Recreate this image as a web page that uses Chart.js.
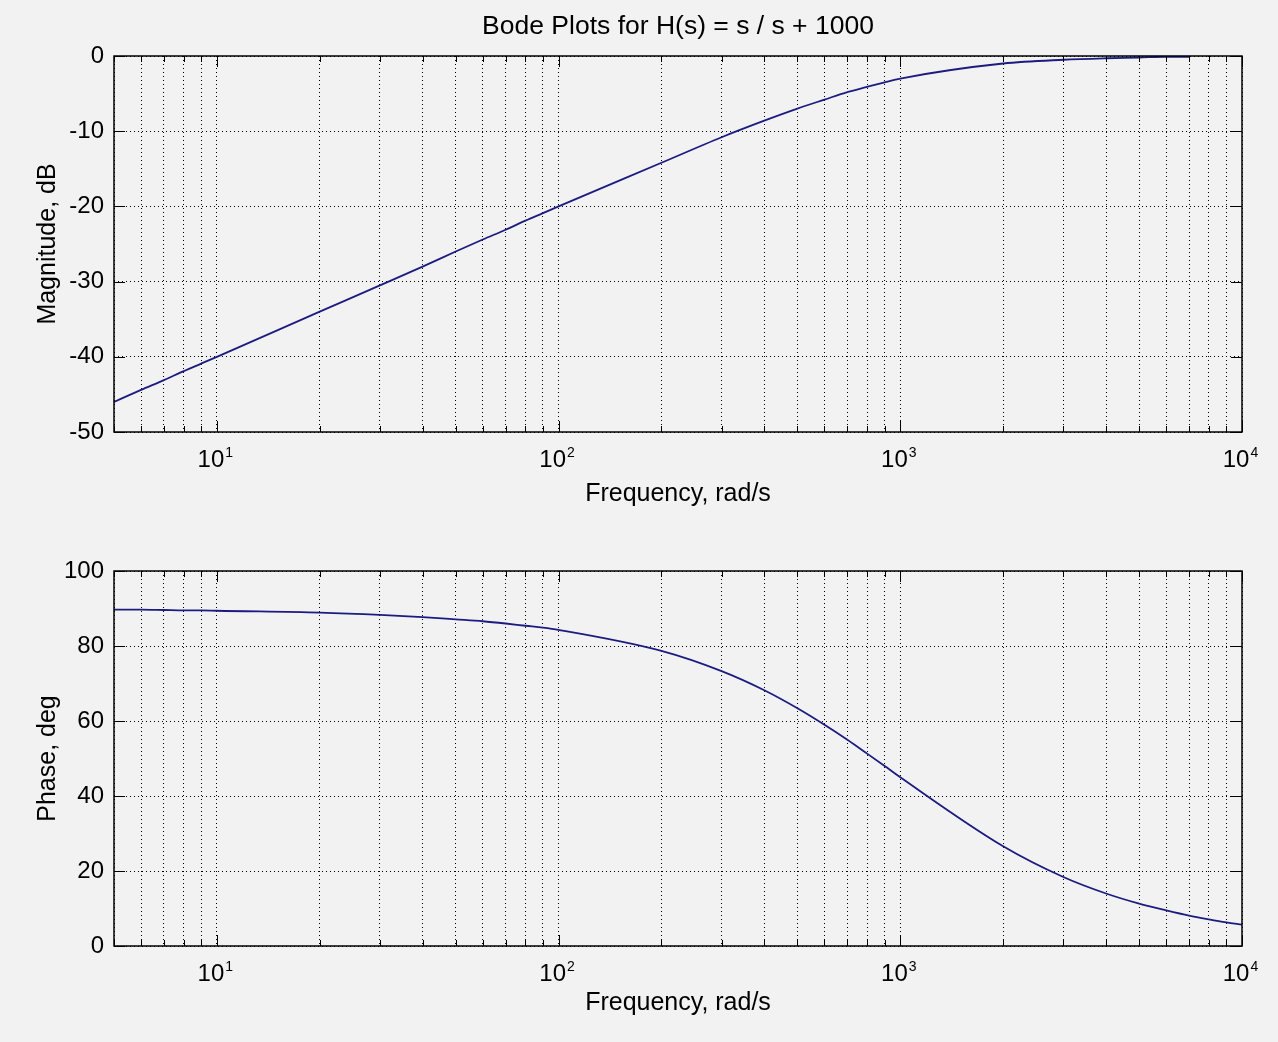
<!DOCTYPE html>
<html>
<head>
<meta charset="utf-8">
<title>Bode Plots</title>
<script src="https://cdn.jsdelivr.net/npm/chart.js@4.4.1/dist/chart.umd.min.js"></script>
<style>
	body { margin: 0; background: #f2f2f2; }
	canvas { position: absolute; left: 0; }
	#magChart { top: 0; }
	#phaseChart { top: 515px; }
</style>
</head>
<body>
<canvas id="magChart" width="1278" height="513"></canvas>
<canvas id="phaseChart" width="1278" height="509"></canvas>
<script>
// frequencies (rad/s) the curves were read at
const freqs = [5, 6, 7, 8, 9, 10, 20, 30, 40, 50, 60, 70, 80, 90,
	100, 200, 300, 400, 500, 600, 700, 800, 900,
	1000, 2000, 3000, 4000, 5000, 6000, 7000, 8000, 9000, 10000];
// magnitude, dB (curve stops near 7000 rad/s)
const magDb = [-46.0, -44.4, -43.1, -41.9, -40.9, -40.0, -34.0, -30.5, -28.0, -26.0, -24.4, -23.1, -21.9, -20.9,
	-20.0, -14.2, -10.8, -8.6, -7.0, -5.8, -4.8, -4.1, -3.5,
	-3.0, -1.0, -0.5, -0.3, -0.2, -0.1, -0.1];
// phase, deg
const phaseDeg = [89.7, 89.7, 89.6, 89.5, 89.5, 89.4, 88.9, 88.3, 87.7, 87.1, 86.6, 86.0, 85.4, 84.9,
	84.3, 78.7, 73.3, 68.2, 63.4, 59.0, 55.0, 51.3, 48.0,
	45.0, 26.6, 18.4, 14.0, 11.3, 9.5, 8.1, 7.1, 6.3, 5.7];

const gridFreqs = [5, 6, 7, 8, 9, 10, 20, 30, 40, 50, 60, 70, 80, 90,
	100, 200, 300, 400, 500, 600, 700, 800, 900,
	1000, 2000, 3000, 4000, 5000, 6000, 7000, 8000, 9000, 10000];
const decadeTicks = [10, 100, 1000, 10000];
const magTicks = [-50, -40, -30, -20, -10, 0];
const phaseTicks = [0, 20, 40, 60, 80, 100];

const FONT = '"Liberation Sans", Arial, Helvetica, sans-serif';
Chart.defaults.font.family = FONT;
Chart.defaults.color = '#000';

// matlab style box, inward ticks and 10^n labels
const matlabAxes = {
	id: 'matlabAxes',
	afterDatasetsDraw(chart) {
		const {ctx, chartArea: a, scales: {x, y}} = chart;
		ctx.save();
		ctx.strokeStyle = '#000';
		ctx.lineWidth = 1;
		ctx.beginPath();
		gridFreqs.forEach(v => {
			const px = Math.round(x.getPixelForValue(v)) + 0.5;
			const len = decadeTicks.includes(v) ? 11 : 6;
			ctx.moveTo(px, a.bottom); ctx.lineTo(px, a.bottom - len);
			ctx.moveTo(px, a.top); ctx.lineTo(px, a.top + len);
		});
		y.ticks.forEach(t => {
			const py = Math.round(y.getPixelForValue(t.value)) + 0.5;
			ctx.moveTo(a.left, py); ctx.lineTo(a.left + 11, py);
			ctx.moveTo(a.right, py); ctx.lineTo(a.right - 11, py);
		});
		ctx.stroke();
		ctx.lineWidth = 1.5;
		ctx.strokeRect(a.left, a.top, a.right - a.left, a.bottom - a.top);

		ctx.fillStyle = '#000';
		ctx.textBaseline = 'alphabetic';
		ctx.textAlign = 'left';
		decadeTicks.forEach(v => {
			const px = x.getPixelForValue(v);
			const exp = String(Math.round(Math.log10(v)));
			ctx.font = '24px ' + FONT;
			const wb = ctx.measureText('10').width;
			ctx.font = '14px ' + FONT;
			const we = ctx.measureText(exp).width;
			const x0 = px - (wb + we) / 2 - 2;
			ctx.font = '24px ' + FONT;
			ctx.fillText('10', x0, a.bottom + 35);
			ctx.font = '14px ' + FONT;
			ctx.fillText(exp, x0 + wb + 1, a.bottom + 25);
		});
		ctx.restore();
	}
};

function makeChart(id, data, yTicks, yTitle, title, xAxisHeight, xTitlePad) {
	return new Chart(document.getElementById(id), {
		type: 'line',
		data: {
			datasets: [{
				data: data.map((v, i) => ({x: freqs[i], y: v})),
				borderColor: '#1c1c80',
				borderWidth: 1.8,
				pointRadius: 0,
				cubicInterpolationMode: 'monotone'
			}]
		},
		options: {
			responsive: false,
			animation: false,
			layout: {padding: {left: 0, right: 36, top: title ? 0 : 56, bottom: 0}},
			plugins: {
				legend: {display: false},
				tooltip: {enabled: false},
				title: {
					display: !!title,
					text: title,
					fullSize: false,
					color: '#000',
					font: {size: 26.5, weight: 'normal', lineHeight: 1.2},
					padding: {top: 11, bottom: 13.2}
				}
			},
			scales: {
				x: {
					type: 'logarithmic',
					min: 5,
					max: 10000,
					afterBuildTicks: s => { s.ticks = gridFreqs.map(v => ({value: v})); },
					afterFit: s => { s.height = xAxisHeight; },
					ticks: {display: false},
					grid: {color: '#000', lineWidth: 1, drawTicks: false},
					border: {display: false, dash: [1, 3]},
					title: {
						display: true,
						text: 'Frequency, rad/s',
						font: {size: 25, lineHeight: 1.2},
						padding: {top: 0, bottom: xTitlePad}
					}
				},
				y: {
					min: yTicks[0],
					max: yTicks[yTicks.length - 1],
					afterBuildTicks: s => { s.ticks = yTicks.map(v => ({value: v})); },
					afterFit: s => { s.width = 114; },
					ticks: {font: {size: 24}, padding: 10, callback: v => String(v)},
					grid: {color: '#000', lineWidth: 1, drawTicks: false},
					border: {display: false, dash: [1, 3]},
					title: {
						display: true,
						text: yTitle,
						font: {size: 25, lineHeight: 1.2},
						padding: {top: 33, bottom: 0}
					}
				}
			}
		},
		plugins: [matlabAxes]
	});
}

makeChart('magChart', magDb, magTicks, 'Magnitude, dB', 'Bode Plots for H(s) = s / s + 1000', 81, 4);
makeChart('phaseChart', phaseDeg, phaseTicks, 'Phase, deg', '', 78, 6);
</script>
</body>
</html>
